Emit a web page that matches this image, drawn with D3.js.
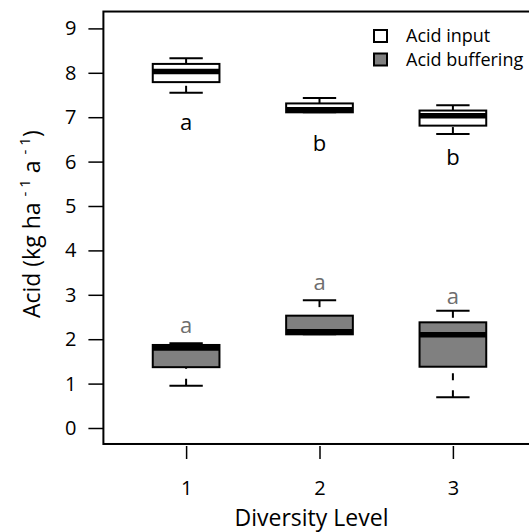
<!DOCTYPE html>
<html lang="en">
<head>
  <meta charset="utf-8">
  <title>Acid boxplot</title>
  <script src="https://d3js.org/d3.v7.min.js"></script>
  <style>
    body { margin: 0; background: #fff; }
    text { font-family: "Open Sans", "Noto Sans", sans-serif; }
  </style>
</head>
<body>
<script type="text/javascript">

// diversity levels on the x axis
var levels = [1, 2, 3];
var yTicks = [0, 1, 2, 3, 4, 5, 6, 7, 8, 9];

// five number summaries: [lowWhisker, q1, median, q3, highWhisker]
var acidInput = [
  [7.55, 7.79, 8.03, 8.20, 8.33],
  [7.11, 7.11, 7.17, 7.31, 7.43],
  [6.62, 6.81, 7.03, 7.15, 7.27]
];
var acidBuffering = [
  [0.95, 1.37, 1.80, 1.87, 1.91],
  [2.11, 2.11, 2.17, 2.53, 2.88],
  [0.69, 1.38, 2.10, 2.38, 2.64]
];

// significance letters and the value they sit at
var inputLetters = ["a", "b", "b"];
var inputLetterY = [6.89, 6.42, 6.10];
var bufferLetters = ["a", "a", "a"];
var bufferLetterY = [2.32, 3.29, 2.97];

var seriesNames = ["Acid input", "Acid buffering"];
var seriesFill = ["#ffffff", "#808080"];
var letterColor = ["#000000", "#6e6e6e"];

var svg_width = 529;
var svg_height = 532;

var svg = d3.select("body")
  .append("svg")
  .attr("width", svg_width)
  .attr("height", svg_height);

var x = d3.scaleLinear().domain([0.38, 3.62]).range([103.4, 535.6]);
var y = d3.scaleLinear().domain([0, 9]).range([428, 28.4]);

var boxW = 0.5 * (x(2) - x(1));
var capW = boxW / 2;

// plot frame
svg.append("rect")
  .attr("x", x(0.38))
  .attr("y", y(9.38))
  .attr("width", x(3.62) - x(0.38))
  .attr("height", y(-0.36) - y(9.38))
  .attr("fill", "none")
  .attr("stroke", "#000")
  .attr("stroke-width", 2);

// y axis
var yAxis = svg.append("g")
  .attr("transform", "translate(" + (x(0.38) - 15) + ",0)")
  .call(d3.axisLeft(y).tickValues(yTicks).tickSize(14));
yAxis.select(".domain").remove();
yAxis.selectAll(".tick line")
  .attr("x1", 0)
  .attr("x2", 15)
  .attr("stroke-width", 1.5);
yAxis.selectAll(".tick text")
  .attr("x", -12)
  .attr("font-size", "20px")
  .attr("fill", "#000");

// x axis
var xAxis = svg.append("g")
  .attr("transform", "translate(0," + (y(-0.36) + 2) + ")")
  .call(d3.axisBottom(x).tickValues(levels).tickFormat(d3.format("d")).tickSize(13).tickPadding(22));
xAxis.select(".domain").remove();
xAxis.selectAll(".tick line").attr("stroke-width", 1.5);
xAxis.selectAll("text")
  .attr("font-size", "20px")
  .attr("fill", "#000");

// axis titles
svg.append("text")
  .attr("x", x(2) - 8)
  .attr("y", 526)
  .attr("text-anchor", "middle")
  .attr("font-size", "23px")
  .text("Diversity Level");

var ylab = svg.append("text")
  .attr("transform", "translate(40," + (y(4.5) - 4) + ") rotate(-90)")
  .attr("text-anchor", "middle")
  .attr("font-size", "23px");
ylab.append("tspan").text("Acid (kg ha ");
ylab.append("tspan").attr("font-size", "15px").attr("dy", -10).text("- 1");
ylab.append("tspan").attr("dy", 10).text(" a ");
ylab.append("tspan").attr("font-size", "15px").attr("dy", -10).text("- 1");
ylab.append("tspan").attr("dy", 10).text(")");

function drawBoxes(stats, fill, cls) {
  var g = svg.selectAll("g." + cls)
    .data(stats)
    .enter()
    .append("g")
    .attr("class", cls);

  // whiskers, dashed like R
  g.append("line")
    .attr("x1", function(d, i) { return x(levels[i]); })
    .attr("x2", function(d, i) { return x(levels[i]); })
    .attr("y1", function(d) { return y(d[0]); })
    .attr("y2", function(d) { return y(d[1]); })
    .attr("stroke", "#000").attr("stroke-width", 2)
    .attr("stroke-dasharray", "7,10");
  g.append("line")
    .attr("x1", function(d, i) { return x(levels[i]); })
    .attr("x2", function(d, i) { return x(levels[i]); })
    .attr("y1", function(d) { return y(d[4]); })
    .attr("y2", function(d) { return y(d[3]); })
    .attr("stroke", "#000").attr("stroke-width", 2)
    .attr("stroke-dasharray", "7,10");

  // staples
  [0, 4].forEach(function(k) {
    g.append("line")
      .attr("x1", function(d, i) { return x(levels[i]) - capW / 2; })
      .attr("x2", function(d, i) { return x(levels[i]) + capW / 2; })
      .attr("y1", function(d) { return y(d[k]); })
      .attr("y2", function(d) { return y(d[k]); })
      .attr("stroke", "#000").attr("stroke-width", 2);
  });

  // box
  g.append("rect")
    .attr("x", function(d, i) { return x(levels[i]) - boxW / 2; })
    .attr("y", function(d) { return y(d[3]); })
    .attr("width", boxW)
    .attr("height", function(d) { return Math.max(y(d[1]) - y(d[3]), 0.5); })
    .attr("fill", fill)
    .attr("stroke", "#000").attr("stroke-width", 2);

  // median
  g.append("line")
    .attr("x1", function(d, i) { return x(levels[i]) - boxW / 2; })
    .attr("x2", function(d, i) { return x(levels[i]) + boxW / 2; })
    .attr("y1", function(d) { return y(d[2]); })
    .attr("y2", function(d) { return y(d[2]); })
    .attr("stroke", "#000").attr("stroke-width", 5.5);
}

drawBoxes(acidInput, seriesFill[0], "input");
drawBoxes(acidBuffering, seriesFill[1], "buffer");

function drawLetters(letters, pos, color) {
  svg.append("g")
    .selectAll("text")
    .data(letters)
    .enter()
    .append("text")
    .attr("x", function(d, i) { return x(levels[i]); })
    .attr("y", function(d, i) { return y(pos[i]); })
    .attr("dy", "0.35em")
    .attr("text-anchor", "middle")
    .attr("font-size", "22px")
    .attr("fill", color)
    .text(function(d) { return d; });
}

drawLetters(inputLetters, inputLetterY, letterColor[0]);
drawLetters(bufferLetters, bufferLetterY, letterColor[1]);

// legend
var legend = svg.selectAll("g.legend")
  .data(seriesNames)
  .enter()
  .append("g")
  .attr("class", "legend")
  .attr("transform", function(d, i) { return "translate(374," + (30 + i * 23.5) + ")"; });
legend.append("rect")
  .attr("width", 13)
  .attr("height", 12)
  .attr("fill", function(d, i) { return seriesFill[i]; })
  .attr("stroke", "#000")
  .attr("stroke-width", 2);
legend.append("text")
  .attr("x", 32)
  .attr("y", 6)
  .attr("dy", "0.35em")
  .attr("font-size", "18px")
  .text(function(d) { return d; });

</script>
</body>
</html>
